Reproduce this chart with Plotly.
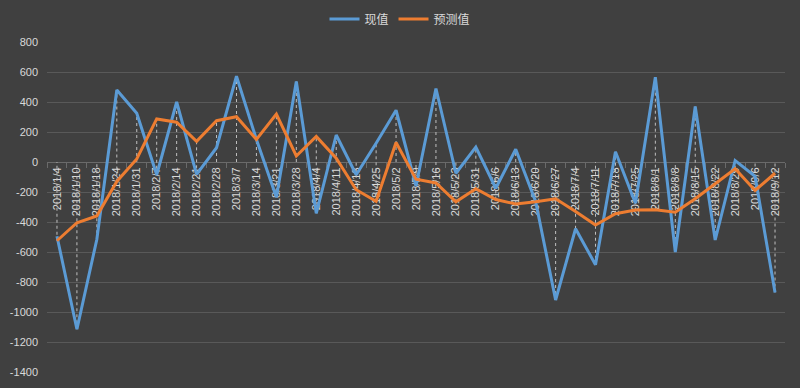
import plotly.graph_objects as go

categories = ["2018/1/4", "2018/1/10", "2018/1/18", "2018/1/24", "2018/1/31", "2018/2/7", "2018/2/14",
              "2018/2/21", "2018/2/28", "2018/3/7", "2018/3/14", "2018/3/21", "2018/3/28", "2018/4/4",
              "2018/4/11", "2018/4/18", "2018/4/25", "2018/5/2", "2018/5/9", "2018/5/16", "2018/5/23",
              "2018/5/31", "2018/6/6", "2018/6/13", "2018/6/20", "2018/6/27", "2018/7/4", "2018/7/11",
              "2018/7/18", "2018/7/25", "2018/8/1", "2018/8/8", "2018/8/15", "2018/8/22", "2018/8/29",
              "2018/9/6", "2018/9/12"]

actual = [-495, -1115, -515, 480, 325, -85, 400, -82, 95, 572, 150, -235, 537, -342, 180, -85, 125, 345,
          -160, 490, -75, 100, -175, 85, -265, -920, -445, -685, 68, -275, 565, -600, 370, -520, 10, -95,
          -870]

forecast = [-525, -405, -360, -130, 20, 287, 265, 138, 275, 302, 150, 320, 40, 170, 25, -185, -262, 130,
            -115, -140, -265, -178, -250, -280, -265, -245, -330, -420, -345, -320, -318, -335, -245, -145,
            -45, -190, -75]

y_ticks = [800, 600, 400, 200, 0, -200, -400, -600, -800, -1000, -1200, -1400]
y_tick_text = [str(v) for v in y_ticks]

series_names = ["现值", "预测值"]
blue = "#5B9BD5"
orange = "#ED7D31"
bg = "#404040"
grid = "#595959"
txt = "#D9D9D9"

# drop lines spanning axis and both series at each category
dx, dy = [], []
for c, a, f in zip(categories, actual, forecast):
    lo = min(0, a, f)
    hi = max(0, a, f)
    dx += [c, c, None]
    dy += [lo, hi, None]

fig = go.Figure()
fig.add_trace(go.Scatter(x=dx, y=dy, mode="lines", showlegend=False, hoverinfo="skip",
                         line=dict(color="#BFBFBF", width=1, dash="3px,3px")))
fig.add_trace(go.Scatter(x=categories, y=actual, mode="lines", name=series_names[0],
                         line=dict(color=blue, width=3)))
fig.add_trace(go.Scatter(x=categories, y=forecast, mode="lines", name=series_names[1],
                         line=dict(color=orange, width=3)))

ymin, ymax = -1400, 800
fig.update_layout(
    template="none",
    width=800, height=388,
    paper_bgcolor=bg, plot_bgcolor=bg,
    margin=dict(l=47, r=15, t=42, b=16, autoexpand=False),
    font=dict(family="Liberation Sans, Arial, sans-serif", size=11, color=txt),
    showlegend=True,
    legend=dict(orientation="h", x=0.5, xanchor="center", xref="container",
                y=1 - 19 / 388, yanchor="middle", yref="container",
                font=dict(family="Noto Sans CJK SC, sans-serif", size=12, color=txt),
                bgcolor="rgba(0,0,0,0)", itemwidth=30, traceorder="normal"),
    xaxis=dict(
        type="category", categoryorder="array", categoryarray=categories,
        range=[-0.5, len(categories) - 0.5],
        anchor="free", position=(0 - ymin) / (ymax - ymin),
        showgrid=False, zeroline=False, automargin=False,
        showline=True, linecolor="#6A6A6A", linewidth=1,
        ticks="outside", tickson="boundaries", ticklen=5, tickcolor="#6A6A6A",
        tickangle=-90, tickfont=dict(size=11, color=txt),
        layer="below traces",
    ),
    yaxis=dict(
        range=[ymin, ymax], tickvals=y_ticks, ticktext=y_tick_text,
        showgrid=True, gridcolor=grid, gridwidth=1, zeroline=False, automargin=False,
        showline=False, ticks="", ticklabelstandoff=8,
        tickfont=dict(size=11, color=txt),
    ),
)

fig.write_html("out.html", config={"displayModeBar": False},
               post_script="document.body.style.margin='0';document.body.style.background='#404040';")
